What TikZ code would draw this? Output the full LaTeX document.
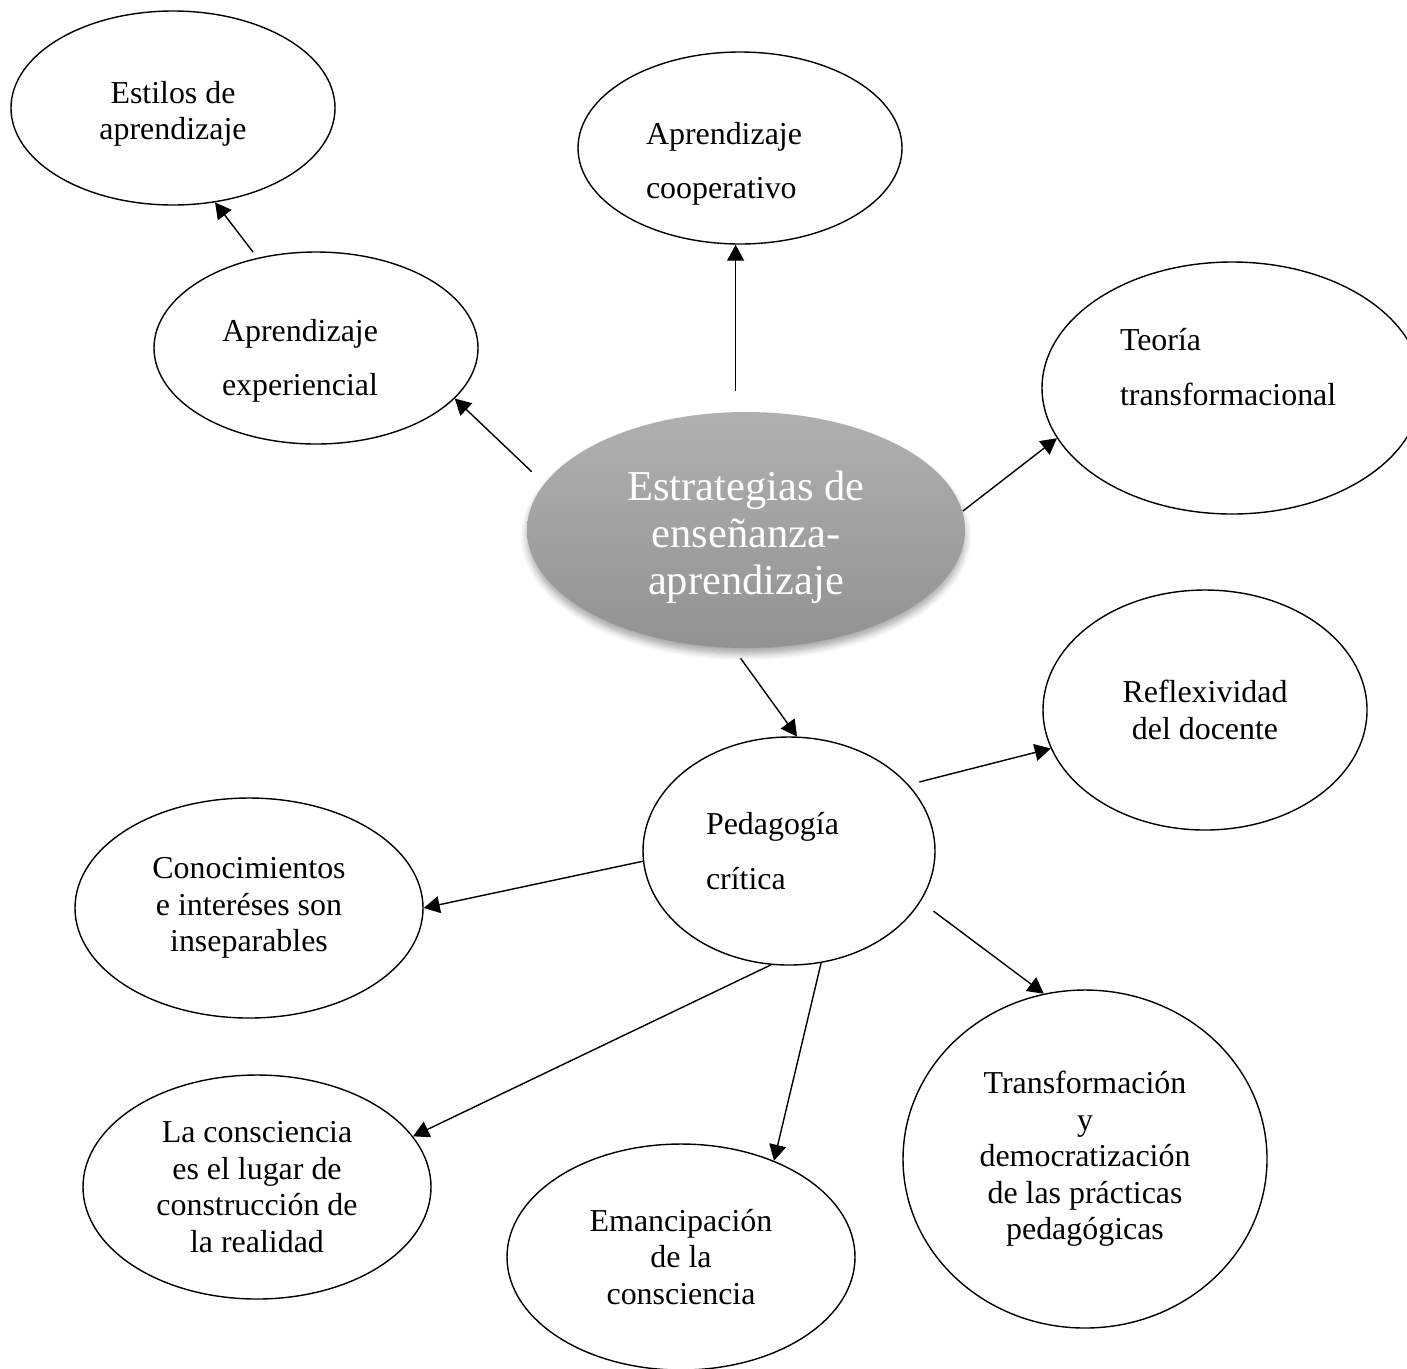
\documentclass[tikz,border=0pt]{standalone}
\usepackage{fontspec}
\setmainfont{Liberation Serif}
\usepackage{xcolor}
\usepackage{tikz}
\definecolor{nucleotop}{RGB}{176,176,176}
\definecolor{nucleobot}{RGB}{146,146,146}
\usetikzlibrary{shapes.geometric,arrows.meta,shadows.blur}

\begin{document}
\begin{tikzpicture}[
    bubble/.style={ellipse, draw, line width=0.4pt, inner sep=0pt, align=center,
      font=\fontsize{9.08}{10.4}\selectfont},
    spaced/.style={align=left, font=\fontsize{9.08}{15.6}\selectfont},
    arr/.style={-{Triangle[length=0.16cm,width=0.17cm]}, line width=0.4pt}
  ]
    \useasboundingbox (0,0) rectangle (14.07,-13.68);

    % Central node
    \node[ellipse, inner sep=0pt, minimum width=4.38cm, minimum height=2.36cm,
      top color=nucleotop, bottom color=nucleobot,
      blur shadow={shadow xshift=0cm, shadow yshift=-0.06cm, shadow blur steps=6, shadow opacity=35},
      text=white, align=center, font=\fontsize{12.1}{13.5}\selectfont] (cen) at (7.46,-5.30) {\rule{0pt}{12.5pt}Estrategias de\\enseñanza-\\aprendizaje};

    % Upper nodes
    \node[bubble, minimum width=3.24cm, minimum height=1.94cm] (estilos) at (1.73,-1.08) {\rule{0pt}{9.5pt}Estilos de\\aprendizaje};
    \node[bubble, spaced, text width=1.88cm, minimum width=3.24cm, minimum height=1.92cm] (coop) at (7.40,-1.48) {\rule{0pt}{15.3pt}Aprendizaje\\cooperativo};
    \node[bubble, spaced, text width=1.88cm, minimum width=3.24cm, minimum height=1.92cm] (exper) at (3.16,-3.48) {\rule{0pt}{13.6pt}Aprendizaje\\experiencial};
    \node[bubble, spaced, text width=2.24cm, minimum width=3.80cm, minimum height=2.52cm] (teoria) at (12.32,-3.88) {Teoría\\transformacional\rule[-12pt]{0pt}{12pt}};

    % Pedagogia critica and its branches
    \node[bubble, spaced, text width=1.66cm, minimum width=2.92cm, minimum height=2.28cm] (ped) at (7.89,-8.51) {Pedagogía\\crítica};
    \node[bubble, minimum width=3.24cm, minimum height=2.40cm] (refl) at (12.05,-7.10) {Reflexividad\\del docente};
    \node[bubble, minimum width=3.48cm, minimum height=2.20cm] (conoc) at (2.49,-9.08) {Conocimientos\\e interéses son\\inseparables};
    \node[bubble, minimum width=3.48cm, minimum height=2.24cm] (lacons) at (2.57,-11.87) {La consciencia\\es el lugar de\\construcción de\\la realidad};
    \node[bubble, minimum width=3.48cm, minimum height=2.26cm] (emanc) at (6.81,-12.57) {Emancipación\\de la\\consciencia};
    \node[bubble, minimum width=3.64cm, minimum height=3.38cm] (transf) at (10.85,-11.59) {Transformación\\y\\democratización\\de las prácticas\\pedagógicas};

    % Arrows
    \draw[arr, shorten <=0.07cm] (exper.123) -- (estilos.-66);
    \draw[arr, shorten <=0.20cm] (cen.95) -- (cen.95 |- coop.south);
    \draw[arr, shorten <=0.17cm] (cen.167) -- (exper.-20);
    \draw[arr] (cen.5) -- (teoria.196);
    \draw[arr, shorten <=0.12cm] (cen.264) -- (ped.86);
    \draw[arr, shorten <=0.11cm] (ped.29) -- (refl.194);
    \draw[arr] (ped.184) -- (conoc.0);
    \draw[arr, shorten <=0.16cm] (ped.-21) -- (transf.104);
    \draw[arr] (ped.261) -- (lacons.18);
    \draw[arr] (ped.286) -- (emanc.46);
\end{tikzpicture}
\end{document}
